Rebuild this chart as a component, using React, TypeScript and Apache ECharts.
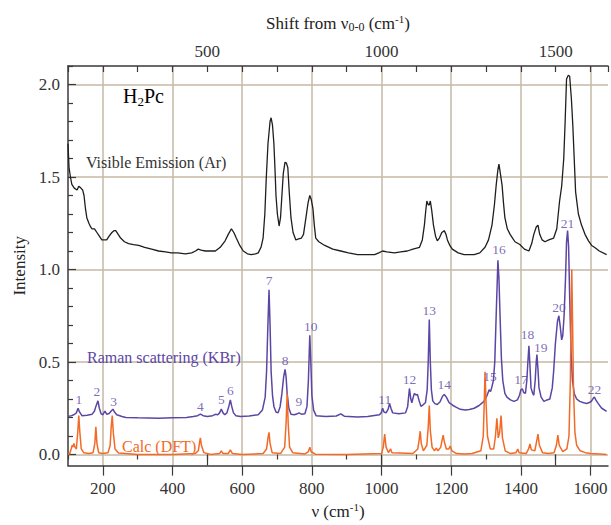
import React, { useEffect, useRef } from 'react';
import * as echarts from 'echarts';

// Visible emission (Ar) spectrum: [wavenumber cm-1, intensity]
const emission: [number, number][] = [
  [100,1.68],[103,1.55],[107,1.50],[111,1.46],[118,1.44],[126,1.43],[131,1.45],[137,1.44],[142,1.43],[146,1.40],
  [150,1.33],[154,1.28],[160,1.25],[165,1.23],[169,1.22],[176,1.22],[183,1.20],[190,1.18],[197,1.16],[204,1.16],
  [211,1.16],[218,1.18],[226,1.20],[232,1.21],[237,1.21],[244,1.19],[251,1.17],[262,1.15],[274,1.14],[288,1.135],
  [303,1.13],[320,1.12],[340,1.11],[360,1.10],[380,1.095],[397,1.09],[415,1.09],[437,1.085],[455,1.09],[466,1.10],
  [474,1.11],[482,1.105],[494,1.10],[508,1.10],[523,1.10],[537,1.12],[551,1.155],[560,1.19],[569,1.22],[576,1.20],
  [583,1.17],[593,1.13],[603,1.10],[615,1.085],[626,1.08],[638,1.085],[646,1.09],[654,1.12],[660,1.17],[665,1.30],
  [669,1.49],[674,1.68],[680,1.80],[683,1.82],[687,1.78],[691,1.68],[694,1.55],[697,1.40],[701,1.30],[706,1.235],
  [710,1.28],[714,1.40],[718,1.52],[723,1.58],[727,1.575],[731,1.55],[735,1.42],[740,1.28],[746,1.20],[754,1.16],
  [762,1.165],[770,1.17],[776,1.19],[783,1.28],[789,1.36],[794,1.40],[798,1.38],[803,1.33],[807,1.24],[811,1.17],
  [820,1.15],[837,1.13],[860,1.11],[883,1.10],[905,1.09],[931,1.08],[955,1.08],[980,1.08],[992,1.09],[1003,1.10],
  [1015,1.095],[1037,1.09],[1055,1.095],[1074,1.10],[1090,1.11],[1109,1.12],[1117,1.16],[1123,1.24],[1127,1.32],[1130,1.37],
  [1134,1.35],[1137,1.35],[1140,1.37],[1144,1.32],[1149,1.24],[1155,1.18],[1160,1.155],[1166,1.17],[1173,1.20],[1180,1.21],
  [1185,1.19],[1189,1.16],[1196,1.13],[1203,1.11],[1220,1.09],[1237,1.08],[1252,1.08],[1266,1.08],[1282,1.09],[1297,1.12],
  [1307,1.16],[1317,1.24],[1324,1.35],[1329,1.455],[1334,1.54],[1337,1.57],[1341,1.52],[1346,1.455],[1350,1.36],[1354,1.28],
  [1361,1.22],[1369,1.19],[1376,1.17],[1383,1.15],[1397,1.135],[1410,1.11],[1423,1.10],[1431,1.14],[1437,1.19],[1444,1.23],
  [1449,1.24],[1454,1.19],[1461,1.16],[1469,1.15],[1480,1.16],[1494,1.17],[1503,1.22],[1511,1.37],[1517,1.45],[1523,1.60],
  [1527,1.80],[1531,2.03],[1536,2.05],[1540,2.045],[1545,1.92],[1549,1.78],[1553,1.60],[1557,1.42],[1565,1.30],[1574,1.24],
  [1584,1.19],[1594,1.155],[1603,1.13],[1611,1.12],[1625,1.10],[1646,1.08]
];

// Raman scattering (KBr) spectrum
const raman: [number, number][] = [
  [100,0.206],[110,0.21],[117,0.215],[124,0.225],[129,0.25],[133,0.23],[140,0.21],[155,0.212],[169,0.217],[176,0.235],
  [180,0.26],[186,0.29],[190,0.25],[195,0.22],[200,0.215],[206,0.235],[211,0.218],[218,0.222],[224,0.235],[229,0.245],
  [234,0.228],[240,0.215],[255,0.205],[266,0.20],[300,0.198],[330,0.197],[360,0.196],[400,0.198],[440,0.20],[460,0.205],
  [472,0.21],[480,0.218],[488,0.21],[500,0.205],[515,0.21],[523,0.217],[530,0.215],[535,0.225],[540,0.245],[545,0.225],
  [550,0.215],[556,0.225],[561,0.255],[566,0.295],[570,0.26],[575,0.225],[582,0.21],[595,0.205],[620,0.208],[646,0.215],
  [658,0.24],[666,0.31],[670,0.45],[673,0.65],[677,0.89],[680,0.70],[683,0.45],[687,0.32],[691,0.26],[697,0.23],
  [703,0.225],[709,0.26],[714,0.33],[719,0.42],[723,0.46],[726,0.42],[729,0.33],[734,0.25],[740,0.218],[750,0.215],
  [758,0.22],[763,0.225],[770,0.218],[780,0.22],[786,0.26],[790,0.40],[794,0.645],[797,0.50],[800,0.32],[805,0.24],
  [812,0.21],[840,0.205],[870,0.208],[883,0.22],[893,0.207],[931,0.203],[960,0.205],[994,0.215],[999,0.225],[1003,0.25],
  [1007,0.23],[1013,0.225],[1019,0.245],[1023,0.276],[1027,0.25],[1032,0.225],[1050,0.22],[1069,0.225],[1075,0.26],[1080,0.357],
  [1084,0.30],[1087,0.28],[1091,0.31],[1094,0.33],[1099,0.322],[1103,0.325],[1108,0.29],[1113,0.26],[1120,0.27],[1126,0.28],
  [1131,0.35],[1134,0.50],[1137,0.73],[1140,0.50],[1143,0.35],[1147,0.29],[1153,0.275],[1160,0.27],[1168,0.285],[1175,0.315],
  [1180,0.324],[1186,0.31],[1194,0.28],[1205,0.265],[1215,0.255],[1226,0.244],[1240,0.24],[1252,0.243],[1266,0.25],[1280,0.265],
  [1294,0.287],[1303,0.32],[1309,0.35],[1313,0.34],[1317,0.367],[1321,0.40],[1325,0.50],[1329,0.75],[1334,1.05],[1337,0.95],
  [1340,0.76],[1344,0.52],[1348,0.40],[1354,0.33],[1360,0.31],[1370,0.295],[1380,0.287],[1390,0.295],[1396,0.32],[1400,0.35],
  [1404,0.355],[1408,0.335],[1413,0.33],[1417,0.40],[1420,0.50],[1423,0.587],[1426,0.48],[1429,0.36],[1434,0.33],[1437,0.32],
  [1441,0.40],[1444,0.50],[1446,0.54],[1449,0.46],[1452,0.36],[1458,0.31],[1466,0.287],[1475,0.295],[1483,0.30],[1490,0.36],
  [1494,0.45],[1499,0.60],[1505,0.72],[1509,0.75],[1513,0.69],[1517,0.62],[1520,0.64],[1524,0.75],[1528,0.95],[1531,1.15],
  [1534,1.21],[1537,1.12],[1540,0.85],[1544,0.55],[1548,0.40],[1553,0.33],[1560,0.30],[1569,0.287],[1580,0.28],[1589,0.276],
  [1598,0.282],[1603,0.29],[1608,0.305],[1611,0.31],[1615,0.295],[1622,0.275],[1632,0.25],[1646,0.233]
];

// Calc (DFT) spectrum
const calc: [number, number][] = [
  [100,0.0],[105,0.005],[109,0.03],[112,0.05],[114,0.04],[117,0.06],[120,0.04],[124,0.03],[128,0.12],[131,0.21],
  [134,0.12],[138,0.03],[145,0.01],[160,0.005],[172,0.01],[177,0.06],[180,0.15],[183,0.06],[188,0.01],[200,0.005],
  [215,0.01],[221,0.05],[224,0.15],[227,0.21],[230,0.12],[235,0.03],[245,0.008],[300,0.0],[400,0.0],[465,0.005],
  [474,0.02],[478,0.07],[480,0.09],[483,0.05],[490,0.01],[510,0.0],[535,0.005],[540,0.02],[545,0.005],[560,0.005],
  [566,0.025],[572,0.005],[600,0.0],[660,0.005],[670,0.03],[674,0.09],[677,0.12],[680,0.06],[686,0.01],[710,0.005],
  [722,0.04],[726,0.17],[729,0.33],[732,0.17],[736,0.04],[745,0.01],[780,0.003],[790,0.015],[794,0.04],[798,0.015],
  [810,0.002],[900,0.0],[1000,0.005],[1005,0.04],[1009,0.11],[1013,0.04],[1020,0.01],[1026,0.03],[1030,0.01],[1090,0.005],
  [1104,0.03],[1108,0.08],[1111,0.126],[1114,0.06],[1120,0.02],[1130,0.05],[1134,0.15],[1137,0.265],[1140,0.13],[1145,0.04],
  [1152,0.02],[1157,0.035],[1162,0.02],[1170,0.04],[1174,0.08],[1177,0.105],[1180,0.07],[1186,0.03],[1193,0.03],[1197,0.046],
  [1202,0.02],[1215,0.005],[1240,0.003],[1260,0.005],[1285,0.02],[1292,0.1],[1295,0.3],[1297,0.447],[1300,0.28],[1304,0.1],
  [1312,0.03],[1322,0.03],[1327,0.1],[1331,0.196],[1335,0.09],[1339,0.12],[1343,0.21],[1347,0.09],[1355,0.02],[1370,0.005],
  [1386,0.01],[1391,0.03],[1395,0.01],[1415,0.005],[1422,0.03],[1426,0.057],[1430,0.025],[1440,0.02],[1445,0.07],[1449,0.11],
  [1453,0.05],[1462,0.01],[1480,0.005],[1495,0.01],[1502,0.05],[1506,0.105],[1510,0.05],[1520,0.015],[1532,0.03],[1538,0.1],
  [1542,0.4],[1544,0.75],[1546,1.0],[1548,0.75],[1551,0.35],[1555,0.12],[1560,0.05],[1570,0.02],[1585,0.01],[1600,0.005],
  [1625,0.003],[1646,0.0]
];

// Raman peak numbers: [label, wavenumber, intensity where the number sits]
const peakLabels: [string, number, number][] = [
  ['1',131,0.297],['2',183,0.34],['3',231,0.287],['4',480,0.26],['5',540,0.297],['6',566,0.346],
  ['7',677,0.94],['8',723,0.51],['9',763,0.287],['10',797,0.694],['11',1009,0.297],['12',1080,0.405],
  ['13',1137,0.78],['14',1180,0.378],['15',1311,0.42],['16',1337,1.107],['17',1400,0.405],['18',1419,0.65],
  ['19',1457,0.58],['20',1509,0.796],['21',1534,1.246],['22',1611,0.35]
];

const xMajorTicks = [200, 400, 600, 800, 1000, 1200, 1400, 1600];
const xMinorTicks = [100, 300, 500, 700, 900, 1100, 1300, 1500];
const topMajorTicks = [500, 1000, 1500];
const yMajorTicks = [0, 0.5, 1.0, 1.5, 2.0];
const yMinorTicks = [0.1,0.2,0.3,0.4,0.6,0.7,0.8,0.9,1.1,1.2,1.3,1.4,1.6,1.7,1.8,1.9,2.1];

const X_MIN = 100;
const X_MAX = 1650;
const Y_MIN = -0.06;
const Y_MAX = 2.1;

const SERIF = "'Liberation Serif', 'Times New Roman', serif";
const AXIS_COLOR = '#3a3a3a';
const GRID_COLOR = '#c6b9a6';
const PURPLE = '#5b46a6';
const ORANGE = '#f26a26';
const BLACK = '#1e1e1e';

const richBase = {
  n: { fontFamily: SERIF, fontSize: 17, color: '#222', lineHeight: 20, verticalAlign: 'middle' as const },
  sup: { fontFamily: SERIF, fontSize: 11, color: '#222', verticalAlign: 'top' as const, lineHeight: 20 },
  sub: { fontFamily: SERIF, fontSize: 12, color: '#222', verticalAlign: 'bottom' as const, lineHeight: 20 },
};

export default function App() {
  const ref = useRef<HTMLDivElement>(null);

  useEffect(() => {
    if (!ref.current) return;
    const chart = echarts.init(ref.current, undefined, { renderer: 'svg' });
    const tickStyle = { color: AXIS_COLOR, width: 1.2 };
    const option: any = {
      animation: false,
      backgroundColor: '#ffffff',
      grid: { left: 68, right: 0, top: 66, bottom: 56, containLabel: false },
      xAxis: [
        {
          type: 'value', min: X_MIN, max: X_MAX, position: 'bottom',
          axisLine: { show: true, onZero: false, lineStyle: { color: AXIS_COLOR, width: 1.5 } },
          axisTick: { show: true, inside: false, length: 10, customValues: xMajorTicks, lineStyle: tickStyle },
          axisLabel: {
            customValues: xMajorTicks, fontFamily: SERIF, fontSize: 17, color: '#333', margin: 14,
            formatter: (v: number) => String(v),
          },
          splitLine: { show: true, lineStyle: { color: GRID_COLOR, width: 1.5 } },
          name: '{n|ν (cm}{sup|-1}{n|)}',
          nameLocation: 'middle', nameGap: 34,
          nameTextStyle: { rich: richBase },
        },
        {
          type: 'value', min: X_MIN, max: X_MAX, position: 'bottom',
          axisLine: { show: false },
          axisTick: { show: true, inside: false, length: 5, customValues: xMinorTicks, lineStyle: tickStyle },
          axisLabel: { show: false },
          splitLine: { show: false },
        },
        {
          type: 'value', min: X_MIN, max: X_MAX, interval: 100, position: 'top',
          axisLine: { show: true, onZero: false, lineStyle: { color: AXIS_COLOR, width: 1.5 } },
          axisTick: { show: true, inside: true, length: 6, lineStyle: tickStyle },
          axisLabel: {
            fontFamily: SERIF, fontSize: 17, color: '#333', margin: 6,
            formatter: (v: number) => (v % 500 === 0 ? String(v) : ''),
          },
          splitLine: { show: false },
          name: '{n|Shift from ν}{sub|0-0}{n| (cm}{sup|-1}{n|)}',
          nameLocation: 'middle', nameGap: 33,
          nameTextStyle: { rich: richBase },
        },
        {
          type: 'value', min: X_MIN, max: X_MAX, position: 'top',
          axisLine: { show: false },
          axisTick: { show: true, inside: true, length: 11, customValues: topMajorTicks, lineStyle: tickStyle },
          axisLabel: { show: false },
          splitLine: { show: false },
        },
      ],
      yAxis: [
        {
          type: 'value', min: Y_MIN, max: Y_MAX, position: 'left',
          axisLine: { show: true, onZero: false, lineStyle: { color: AXIS_COLOR, width: 1.5 } },
          axisTick: { show: true, inside: true, length: 8, customValues: yMajorTicks, lineStyle: tickStyle },
          axisLabel: {
            customValues: yMajorTicks, fontFamily: SERIF, fontSize: 17, color: '#333', margin: 8,
            formatter: (v: number) => v.toFixed(1),
          },
          splitLine: { show: true, lineStyle: { color: GRID_COLOR, width: 1.5 } },
          name: 'Intensity', nameLocation: 'middle', nameGap: 40,
          nameTextStyle: { fontFamily: SERIF, fontSize: 17, color: '#222' },
        },
        {
          type: 'value', min: Y_MIN, max: Y_MAX, position: 'left',
          axisLine: { show: false },
          axisTick: { show: true, inside: true, length: 5, customValues: yMinorTicks, lineStyle: tickStyle },
          axisLabel: { show: false },
          splitLine: { show: false },
        },
      ],
      series: [
        {
          name: 'Visible Emission (Ar)', type: 'line', data: emission, showSymbol: false, symbol: 'none',
          xAxisIndex: 0, yAxisIndex: 0, lineStyle: { color: BLACK, width: 1.3 }, z: 3,
        },
        {
          name: 'Raman scattering (KBr)', type: 'line', data: raman, showSymbol: false, symbol: 'none',
          xAxisIndex: 0, yAxisIndex: 0, lineStyle: { color: PURPLE, width: 1.5 }, z: 3,
        },
        {
          name: 'Calc (DFT)', type: 'line', data: calc, showSymbol: false, symbol: 'none',
          xAxisIndex: 0, yAxisIndex: 0, lineStyle: { color: ORANGE, width: 1.5 }, z: 4,
        },
        {
          name: 'peak numbers', type: 'scatter', xAxisIndex: 0, yAxisIndex: 0, symbolSize: 1,
          itemStyle: { color: 'rgba(0,0,0,0)' }, z: 5,
          data: peakLabels.map(([t, x, y]) => ({ name: t, value: [x, y] })),
          label: {
            show: true, position: 'inside', formatter: (p: any) => p.name,
            fontFamily: SERIF, fontSize: 13.5, color: PURPLE,
          },
        },
      ],
      graphic: [
        {
          type: 'text', left: 123, top: 86, z: 10,
          style: {
            text: '{a|H}{b|2}{a|Pc}',
            rich: {
              a: { fontFamily: SERIF, fontSize: 20, color: '#222', lineHeight: 24, verticalAlign: 'middle' },
              b: { fontFamily: SERIF, fontSize: 13, color: '#222', lineHeight: 24, verticalAlign: 'bottom' },
            },
          },
        },
        {
          type: 'text', left: 86, top: 154, z: 10,
          style: { text: 'Visible Emission (Ar)', fontFamily: SERIF, fontSize: 16, fill: '#333' },
        },
        {
          type: 'text', left: 87, top: 349, z: 10,
          style: { text: 'Raman scattering (KBr)', fontFamily: SERIF, fontSize: 16, fill: PURPLE },
        },
        {
          type: 'text', left: 122, top: 438, z: 10,
          style: { text: 'Calc (DFT)', fontFamily: SERIF, fontSize: 16, fill: ORANGE },
        },
      ],
    };
    chart.setOption(option);
    return () => chart.dispose();
  }, []);

  return <div ref={ref} style={{ width: 611, height: 525, position: 'absolute', left: 0, top: 0 }} />;
}
